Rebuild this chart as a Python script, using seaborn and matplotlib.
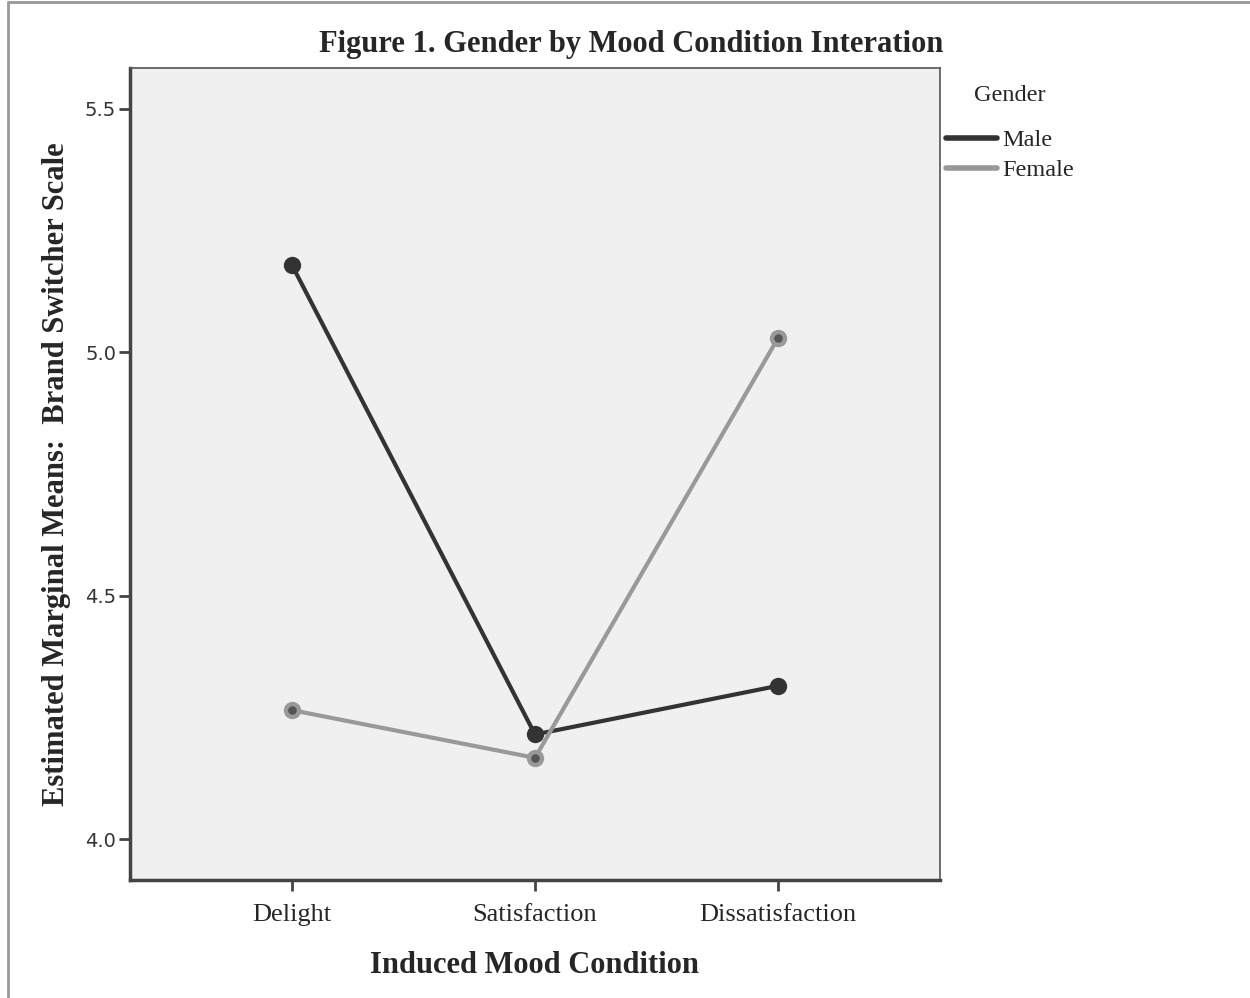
import matplotlib
matplotlib.use("Agg")
import matplotlib.pyplot as plt
from matplotlib.lines import Line2D
import seaborn as sns
import pandas as pd

conditions = ["Delight", "Satisfaction", "Dissatisfaction"]
male_means = [5.18, 4.215, 4.315]
female_means = [4.265, 4.167, 5.03]
genders = ["Male", "Female"]
y_ticks = [4.0, 4.5, 5.0, 5.5]

df = pd.DataFrame({
    "Induced Mood Condition": conditions * 2,
    "x": list(range(len(conditions))) * 2,
    "mean": male_means + female_means,
    "Gender": ["Male"] * 3 + ["Female"] * 3,
})

sns.set_theme(style="white")
plt.rcParams["font.family"] = ["Liberation Serif", "DejaVu Serif"]

fig = plt.figure(figsize=(12.5, 9.98), dpi=100)
ax = fig.add_axes([0.104, 0.1182, 0.648, 0.8137])
ax.set_facecolor("#F0F0F0")

palette = {"Male": "#333333", "Female": "#999999"}
sns.lineplot(data=df, x="x", y="mean", hue="Gender", hue_order=genders,
             palette=palette, linewidth=3, marker="o", markersize=12.5,
             markeredgewidth=0, ax=ax, legend=False, zorder=3)
fem = df[df["Gender"] == "Female"]
sns.scatterplot(data=fem, x="x", y="mean", color="#555555", s=38,
                linewidth=0, ax=ax, legend=False, zorder=4)

ax.set_xlim(-0.665, 2.665)
ax.set_ylim(3.916, 5.584)
ax.set_xticks(range(len(conditions)))
ax.set_xticklabels(conditions, fontsize=19)
ax.set_yticks(y_ticks)
ax.set_yticklabels([f"{v:.1f}" for v in y_ticks], fontsize=14,
                   family=["DejaVu Sans"], color="#333333")
ax.tick_params(axis="x", direction="out", length=8, width=2,
               color="#444444", bottom=True, pad=9)
ax.tick_params(axis="y", direction="out", length=8, width=2,
               color="#444444", left=True, pad=2)
for side in ["left", "bottom"]:
    ax.spines[side].set_color("#444444")
    ax.spines[side].set_linewidth(2.5)
for side in ["top", "right"]:
    ax.spines[side].set_color("#555555")
    ax.spines[side].set_linewidth(1.2)

ax.set_xlabel("Induced Mood Condition", fontsize=22, fontweight="bold", labelpad=18)
ax.set_ylabel("Estimated Marginal Means:  Brand Switcher Scale", fontsize=22,
              fontweight="bold", labelpad=10)
fig.suptitle("Figure 1. Gender by Mood Condition Interation", fontsize=22,
             fontweight="bold", x=0.505, y=0.955, va="center")

handles = [Line2D([], [], color=palette[g], linewidth=4) for g in genders]
leg = fig.legend(handles, genders, title="Gender", loc="upper left",
                 bbox_to_anchor=(0.757, 0.915), frameon=False, fontsize=17.5,
                 title_fontsize=17.5, handlelength=2.1, handletextpad=0.2,
                 labelspacing=0.32, borderaxespad=0, borderpad=0)
leg._legend_box.sep = 17

fig.add_artist(Line2D([0.0064, 1.0], [0.998, 0.998], transform=fig.transFigure,
                      color="#999999", linewidth=2))
fig.add_artist(Line2D([0.0064, 0.0064], [0.0, 0.998], transform=fig.transFigure,
                      color="#999999", linewidth=2))

fig.savefig("out.png", dpi=100, facecolor="white")
